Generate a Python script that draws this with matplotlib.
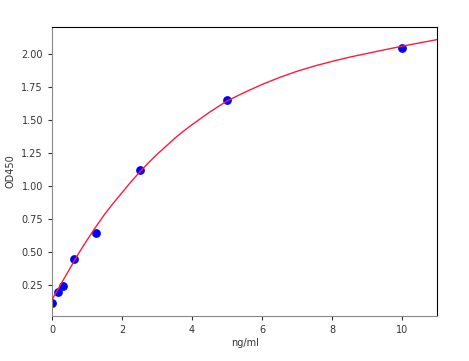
import matplotlib
matplotlib.use("Agg")
import matplotlib.pyplot as plt

# standard points
conc = [0, 0.156, 0.3125, 0.625, 1.25, 2.5, 5, 10]
od = [0.11, 0.195, 0.24, 0.445, 0.64, 1.12, 1.65, 2.05]

# fitted curve
fit_x = [0, 0.25, 0.5, 0.75, 1, 1.25, 1.5, 1.75, 2, 2.25, 2.5, 2.75, 3, 3.25, 3.5,
         3.75, 4, 4.5, 5, 5.5, 6, 6.5, 7, 7.5, 8, 8.5, 9, 9.5, 10, 10.5, 11]
fit_y = [0.14, 0.255, 0.37, 0.485, 0.59, 0.69, 0.785, 0.87, 0.95, 1.03, 1.105,
         1.175, 1.24, 1.3, 1.36, 1.415, 1.465, 1.56, 1.645, 1.71, 1.77, 1.823,
         1.87, 1.91, 1.945, 1.977, 2.005, 2.033, 2.06, 2.085, 2.11]

fig = plt.figure(figsize=(4.69, 3.61), dpi=100)
ax = fig.add_axes([0.111, 0.125, 0.821, 0.8])

ax.scatter(conc, od, color="blue", s=28, zorder=2)
ax.plot(fit_x, fit_y, color="#ff1a3c", lw=1.0, zorder=3)

ax.set_xlim(0, 11)
ax.set_ylim(0.015, 2.205)
ax.set_xticks([0, 2, 4, 6, 8, 10])
ax.set_yticks([0.25, 0.5, 0.75, 1.0, 1.25, 1.5, 1.75, 2.0])
ax.set_yticklabels(["0.25", "0.50", "0.75", "1.00", "1.25", "1.50", "1.75", "2.00"])
ax.tick_params(labelsize=7, colors="#333333", length=3)
ax.set_xlabel("ng/ml", fontsize=7, color="#333333", labelpad=2)
ax.set_ylabel("OD450", fontsize=7, color="#333333", labelpad=4)
for s in ["left", "bottom"]:
    ax.spines[s].set_color("#888888")

fig.savefig("out.png", dpi=100)
